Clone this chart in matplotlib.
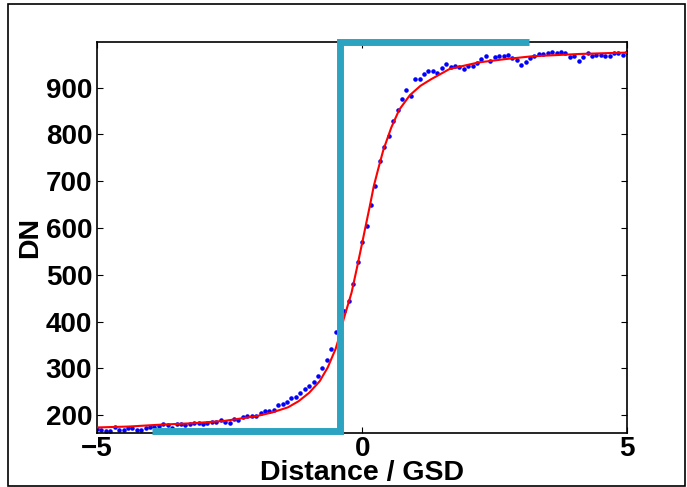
import numpy as np
import matplotlib
matplotlib.use('Agg')
import matplotlib.pyplot as plt
from matplotlib.patches import Rectangle

plt.rcParams['font.family'] = ['Liberation Sans', 'DejaVu Sans']
plt.rcParams['font.weight'] = 'bold'

# measured edge samples (DN), 1/12 GSD spacing from -5 to 5
dn_points = [170, 168, 166.5, 166.5, 175.6, 168, 168, 173.5, 173.5, 168.6,
             168.6, 172, 174.4, 175.6, 177.8, 180.6, 179, 172.8, 181.4, 181.4,
             178.6, 181.4, 182.8, 182.8, 180.6, 182.8, 185, 186.3, 190.6,
             185.6, 183, 192.7, 190, 197, 199.2, 199.2, 199.2, 204, 209.8, 209.8,
             211.3, 221, 224, 229, 236, 239.7, 247, 256, 263.5, 272,
             283, 300, 319, 341, 377, 400, 423.5, 445, 480.6, 527,
             569.6, 605, 649.4, 690.6, 742.7, 772.6, 797.4, 828, 852.4, 875.9,
             895.7, 883, 918.6, 918.6, 929.3, 936.3, 936.3, 932, 942, 950.6,
             944.9, 947, 944.9, 940, 947, 945.7, 953.4, 961, 967, 957.7,
             965, 967, 967, 970.5, 963.5, 959.8, 949, 954, 963.5, 967,
             972, 972, 974, 975.6, 974, 975.6, 974, 965, 967, 957.7,
             965, 974, 967, 970.5, 970.5, 968.4, 967, 974, 974, 970.5, 977]
dist_points = np.linspace(-5, 5, len(dn_points))

# fitted edge spread function
fit_x = [-5.0, -4.4, -3.8, -3.2, -2.6, -2.0, -1.7, -1.4, -1.2, -1.0, -0.8,
         -0.65, -0.5, -0.42, -0.35, -0.2, -0.1, 0.0, 0.08, 0.15, 0.22, 0.3,
         0.4, 0.55, 0.7, 0.9, 1.1, 1.3, 1.65, 2.2, 2.7, 3.2, 4.1, 5.0]
fit_dn = [174, 176, 180, 183, 188, 198, 206, 217, 230, 248, 273,
          302, 342, 372, 405, 462, 514, 568, 612, 650, 690, 725,
          767, 815, 853, 884, 904, 918, 940, 954, 961, 967, 972, 975]

# ideal edge
edge_x = [-3.97, -0.42, -0.42, 3.15]
edge_dn = [165.5, 165.5, 998, 998]

fig = plt.figure(figsize=(6.87, 4.87), dpi=100)
ax = fig.add_axes([0.1412, 0.1109, 0.7719, 0.8029])

ax.plot(dist_points, dn_points, '.', color='#0000ff', markersize=4.5, zorder=2)
ax.plot(fit_x, fit_dn, '-', color='#ff0000', lw=1.5, zorder=3)
ax.plot(edge_x, edge_dn, '-', color='#2CA3C1', lw=5.0, solid_capstyle='butt',
        solid_joinstyle='miter', clip_on=False, zorder=4)

ax.set_xlim(-5, 5)
ax.set_ylim(162.2, 997.6)
ax.set_xticks([-5, 0, 5])
ax.set_yticks([200, 300, 400, 500, 600, 700, 800, 900])
ax.tick_params(direction='in', length=4, width=0.8, top=True, right=True,
               labelsize=20, pad=3.5)
ax.tick_params(axis='x', pad=2.5)
for s in ax.spines.values():
    s.set_linewidth(1.2)

ax.set_xlabel('Distance / GSD', fontsize=20.5, fontweight='bold', labelpad=-1.5)
ax.set_ylabel('DN', fontsize=20.5, fontweight='bold', labelpad=2)

fig.patches.append(Rectangle((0.0112, 0.002), 0.986, 0.989, transform=fig.transFigure,
                             fill=False, edgecolor='black', lw=1.2))

fig.savefig('out.png', dpi=100)
